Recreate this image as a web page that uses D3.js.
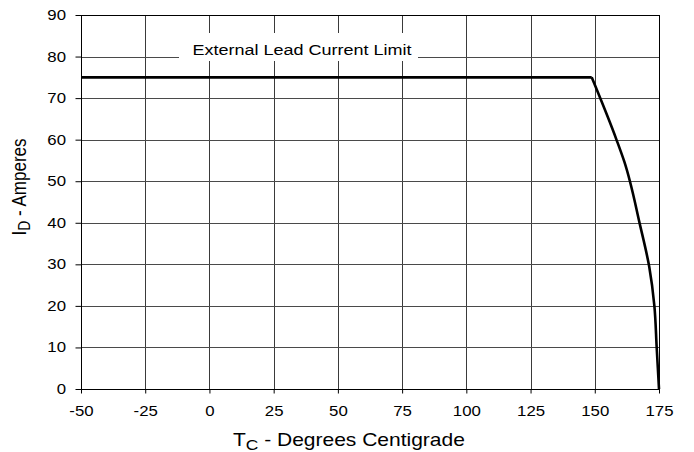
<!DOCTYPE html>
<html>
<head>
<meta charset="utf-8">
<script src="https://cdn.jsdelivr.net/npm/d3@7"></script>
<style>
body { margin: 0; background: #fff; }
text { font-family: "Liberation Sans", Arial, sans-serif; fill: #000; }
</style>
</head>
<body>
<svg width="694" height="452"></svg>
<script>
// current limit (flat part) and the derating fall
const limitTemp = [-50, 148.8];
const limitAmps = [75, 75];
const fallTemp = [148.8, 158.5, 161.5, 167.6, 171.2, 173.2, 174.1, 175];
const fallAmps = [75, 59.9, 54.7, 39.5, 29.4, 20, 10, 0];
const xTicks = [-50, -25, 0, 25, 50, 75, 100, 125, 150, 175];
const yTicks = [0, 10, 20, 30, 40, 50, 60, 70, 80, 90];
const limitLabel = "External Lead Current Limit";

const svg = d3.select("svg");
const pl = 81, pr = 659, pt = 15, pb = 389;
const sx = 1.2; // the source text is a bit wide

const x = d3.scaleLinear().domain([-50, 175]).range([pl, pr]);
const y = d3.scaleLinear().domain([0, 90]).range([pb, pt]);

// grid
svg.append("g").selectAll("line")
  .data(xTicks.slice(1, -1))
  .enter().append("line")
  .attr("x1", d => Math.round(x(d)) + 0.5).attr("x2", d => Math.round(x(d)) + 0.5)
  .attr("y1", pt).attr("y2", pb)
  .attr("stroke", "#3a3a3a").attr("stroke-width", 1);

svg.append("g").selectAll("line")
  .data(yTicks.slice(1, -1))
  .enter().append("line")
  .attr("x1", pl).attr("x2", pr)
  .attr("y1", d => Math.round(y(d)) + 0.5).attr("y2", d => Math.round(y(d)) + 0.5)
  .attr("stroke", "#4a4a4a").attr("stroke-width", 1);

// white box behind the label
svg.append("rect")
  .attr("x", 179).attr("y", 33).attr("width", 239).attr("height", 28)
  .attr("fill", "#fff");
svg.append("text")
  .attr("transform", "translate(302,54.5) scale(" + sx + ",1)")
  .attr("text-anchor", "middle")
  .attr("font-size", 15)
  .text(limitLabel);

// axes
const fmt = d => String(d);
const xAxis = d3.axisBottom(x).tickValues(xTicks).tickFormat(fmt).tickSize(4).tickPadding(13);
const yAxis = d3.axisLeft(y).tickValues(yTicks).tickFormat(fmt).tickSize(6).tickPadding(9);

svg.append("g")
  .attr("transform", "translate(0," + (pb + 0.5) + ")")
  .call(xAxis)
  .call(g => g.select(".domain").remove())
  .call(g => g.selectAll("line").attr("stroke", "#000"))
  .call(g => g.selectAll("text").attr("font-size", 14).attr("fill", "#000")
    .attr("transform", "scale(" + sx + ",1)")
    .style("font-family", "Liberation Sans, Arial, sans-serif"));

svg.append("g")
  .attr("transform", "translate(" + (pl + 0.5) + ",0)")
  .call(yAxis)
  .call(g => g.select(".domain").remove())
  .call(g => g.selectAll("line").attr("stroke", "#000"))
  .call(g => g.selectAll("text").attr("font-size", 14).attr("fill", "#000")
    .attr("x", -15.5 / sx)
    .attr("transform", "scale(" + sx + ",1)")
    .style("font-family", "Liberation Sans, Arial, sans-serif"));

// frame
svg.append("rect")
  .attr("x", pl + 0.5).attr("y", pt + 0.5)
  .attr("width", pr - pl).attr("height", pb - pt)
  .attr("fill", "none").attr("stroke", "#000").attr("stroke-width", 1);

// curve
const line = d3.line().x(d => x(d[0])).y(d => y(d[1]));
svg.append("path")
  .datum(limitTemp.map((t, i) => [t, limitAmps[i]]))
  .attr("fill", "none").attr("stroke", "#000").attr("stroke-width", 2.6)
  .attr("d", line);
svg.append("path")
  .datum(fallTemp.map((t, i) => [t, fallAmps[i]]))
  .attr("fill", "none").attr("stroke", "#000").attr("stroke-width", 2.6)
  .attr("stroke-linejoin", "round")
  .attr("d", line.curve(d3.curveMonotoneY));

// axis titles
const xt = svg.append("text")
  .attr("transform", "translate(233,446) scale(" + sx + ",1)")
  .attr("font-size", 17.5);
xt.append("tspan").text("T");
xt.append("tspan").attr("font-size", 14.5).attr("dy", 4).text("C");
xt.append("tspan").attr("dy", -4).text(" - Degrees Centigrade");

const yt = svg.append("text")
  .attr("transform", "translate(25.5,235.5) scale(" + sx + ",1) rotate(-90)")
  .attr("font-size", 17);
yt.append("tspan").text("I");
yt.append("tspan").attr("font-size", 14).attr("dy", 4).text("D");
yt.append("tspan").attr("dy", -4).text(" - Amperes");
</script>
</body>
</html>
